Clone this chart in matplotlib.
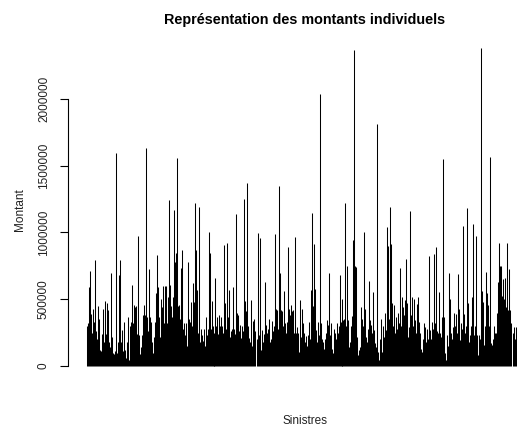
import numpy as np
import matplotlib
matplotlib.use("Agg")
import matplotlib.pyplot as plt

plt.rcParams["font.family"] = ["Liberation Sans", "DejaVu Sans"]

# montants individuels (en milliers), un par sinistre
montants_k = [
    300, 320, 594, 711, 392, 250, 430, 330, 794, 260,
    200, 450, 350, 120, 110, 240, 430, 180, 490, 240,
    470, 420, 180, 140, 700, 220, 100, 90, 110, 1595,
    95, 180, 680, 794, 180, 270, 110, 330, 120, 60,
    180, 370, 45, 300, 330, 610, 320, 460, 440, 450,
    240, 977, 230, 90, 145, 235, 380, 460, 380, 1633,
    370, 260, 730, 370, 330, 180, 95, 220, 330, 550,
    830, 590, 370, 220, 500, 440, 600, 320, 600, 600,
    320, 520, 1243, 610, 450, 370, 520, 1169, 780, 850,
    1558, 450, 460, 350, 735, 870, 280, 320, 230, 320,
    150, 780, 350, 330, 480, 300, 620, 480, 1218, 870,
    570, 250, 1190, 180, 280, 230, 185, 280, 150, 370,
    230, 280, 1005, 850, 280, 490, 300, 245, 220, 660,
    300, 370, 240, 380, 300, 370, 300, 250, 910, 470,
    280, 925, 370, 570, 220, 260, 280, 590, 280, 240,
    1140, 395, 385, 260, 305, 210, 300, 260, 1250, 490,
    410, 1370, 300, 210, 180, 495, 150, 340, 350, 260,
    200, 997, 230, 960, 120, 270, 180, 240, 630, 305,
    245, 280, 350, 180, 200, 340, 260, 300, 990, 430,
    420, 280, 1345, 700, 420, 410, 300, 560, 320, 250,
    330, 890, 430, 385, 460, 410, 420, 250, 969, 250,
    295, 245, 105, 495, 220, 430, 320, 250, 180, 225,
    150, 230, 330, 200, 569, 1148, 450, 914, 577, 270,
    180, 330, 230, 2035, 320, 205, 180, 130, 200, 250,
    345, 305, 694, 230, 320, 130, 95, 280, 245, 200,
    320, 250, 300, 680, 330, 200, 505, 345, 350, 1219,
    300, 749, 345, 145, 180, 300, 375, 943, 2367, 750,
    745, 220, 80, 120, 145, 445, 355, 300, 1004, 425,
    220, 180, 280, 637, 345, 305, 250, 552, 270, 170,
    145, 1813, 105, 45, 200, 355, 105, 300, 220, 395,
    270, 1040, 899, 350, 1189, 914, 470, 300, 460, 245,
    370, 280, 395, 320, 732, 300, 520, 445, 380, 495,
    799, 470, 220, 295, 1164, 380, 520, 300, 505, 345,
    250, 465, 520, 330, 250, 130, 105, 200, 320, 295,
    180, 280, 205, 824, 270, 200, 330, 280, 836, 320,
    894, 260, 250, 552, 250, 220, 370, 1548, 370, 95,
    45, 230, 150, 700, 505, 245, 200, 295, 395, 300,
    390, 250, 687, 430, 195, 320, 280, 1050, 390, 250,
    300, 1181, 470, 180, 230, 300, 520, 1061, 230, 300,
    976, 230, 80, 230, 200, 2380, 565, 480, 155, 300,
    705, 550, 460, 300, 1563, 170, 155, 205, 300, 245,
    245, 400, 630, 919, 750, 750, 525, 655, 500, 660,
    445, 919, 420, 727, 420, 320, 245, 295, 200, 295,
    295,
]
y_ticks = [0, 500000, 1000000, 1500000, 2000000]

montants = np.array(montants_k) * 1000.0
sinistres = np.arange(1, len(montants) + 1)

W, H = 517, 426
fig = plt.figure(figsize=(W / 100, H / 100), dpi=100)
# plot region in pixels: left 68, width 474 (runs past the right edge), top 35, bottom 379
ax = fig.add_axes([68 / W, (H - 379) / H, 474 / W, 344 / H])

ax.vlines(sinistres, 0, montants, colors="black", lw=0.75)

ax.set_xlim(1 - 18.5, 1 - 18.5 + 474)
ax.set_ylim(-13 / 133.5 * 1e6, (366 - 35) / 133.5 * 1e6)

for s in ["top", "right", "bottom"]:
    ax.spines[s].set_visible(False)
ax.spines["left"].set_bounds(0, 2000000)
ax.spines["left"].set_linewidth(0.8)
ax.set_xticks([])
ax.set_yticks(y_ticks)
ax.set_yticklabels([str(v) for v in y_ticks], rotation=90, va="center", fontsize=8.5, color="#222222")
ax.tick_params(axis="y", length=6, width=0.8, pad=7)

fig.text(305 / W, 1 - 20 / H, "Représentation des montants individuels",
         ha="center", va="center", fontsize=10.4, fontweight="bold")
fig.text(305 / W, 1 - 421 / H, "Sinistres", ha="center", va="center", fontsize=8.5, color="#222222")
fig.text(20 / W, 1 - 210 / H, "Montant", ha="center", va="center", rotation=90,
         fontsize=8.5, color="#222222")

fig.savefig("out.png", dpi=100)
